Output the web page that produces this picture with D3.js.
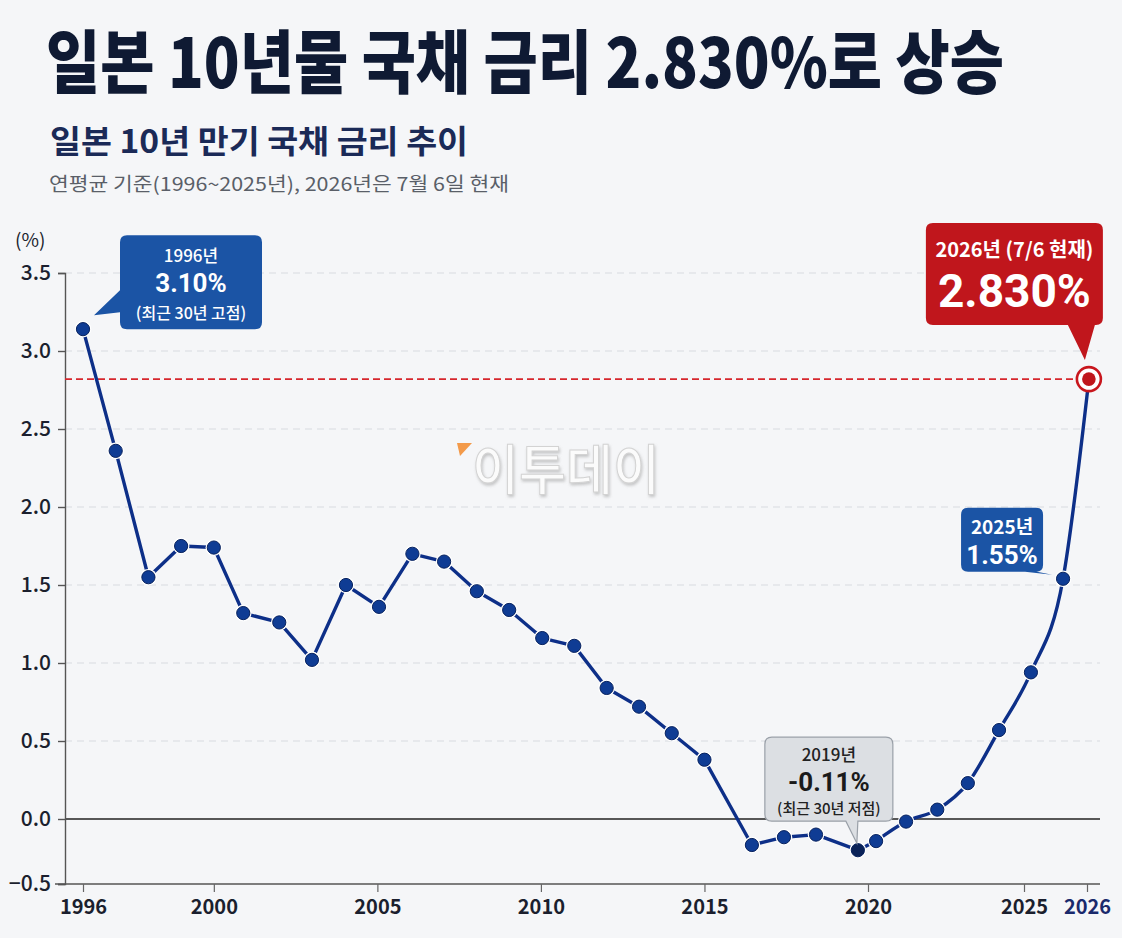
<!DOCTYPE html>
<html><head><meta charset="utf-8">
<script src="https://cdn.jsdelivr.net/npm/d3@7"></script>
<style>
  html,body{margin:0;padding:0;background:#f5f6f8;}
  svg{display:block;font-family:'Noto Sans CJK KR','Noto Sans',sans-serif;}
</style></head>
<body><svg id="viz" width="1122" height="938"></svg>
<script>
// values (x positions in year units, as plotted)
const xYear = [1996,1997,1998,1999,2000,2000.9,2002,2003,2004.04,2005.05,2006.07,2007.04,2008.04,2009.03,2010.04,2011.02,2012.01,2013,2014,2015,
  2016.45,2017.43,2018.41,2019.69,2020.26,2021.22,2022.22,2023.2,2024.2,2025.11,2025.62,2026.03];
const rates = [3.14,2.36,1.55,1.75,1.74,1.32,1.26,1.02,1.50,1.36,1.70,1.65,1.46,1.34,1.16,1.11,0.84,0.72,0.55,0.38,
  -0.20,-0.14,-0.12,-0.24,-0.17,-0.02,0.06,0.23,0.57,0.94,1.54,2.82];
const yTicks = [-0.5,0,0.5,1.0,1.5,2.0,2.5,3.0,3.5];
const xTicks = [1996,2000,2005,2010,2015,2020,2025,2026];
const current = 2.82;

const svg = d3.select("#viz");
const FONT = "'Noto Sans CJK KR','Noto Sans',sans-serif";
const NUM = "Roboto,'Noto Sans',sans-serif";
const left = 65, right = 1100;

// axes in the picture are not evenly spaced: use piecewise scales
const x = d3.scaleLinear().domain([1996,2020,2025,2026]).range([83,868,1024,1087]);
const y = d3.scaleLinear().domain([-0.5,0,3.5]).range([884,819,273]);

// titles
svg.append("text").attr("transform","translate(46,88) scale(1,1.08)").attr("font-size",64).attr("font-weight",900)
  .attr("fill","#0f1a33").attr("textLength",958).attr("lengthAdjust","spacingAndGlyphs")
  .text("일본 10년물 국채 금리 2.830%로 상승");
svg.append("text").attr("x",50).attr("y",153).attr("font-size",32).attr("font-weight",700)
  .attr("fill","#1b2a57").attr("textLength",418).attr("lengthAdjust","spacingAndGlyphs")
  .text("일본 10년 만기 국채 금리 추이");
svg.append("text").attr("x",49).attr("y",191).attr("font-size",19)
  .attr("fill","#5a5f68").attr("textLength",460).attr("lengthAdjust","spacingAndGlyphs")
  .text("연평균 기준(1996~2025년), 2026년은 7월 6일 현재");

// watermark
const wm = svg.append("g");
const defs = svg.append("defs");
defs.append("filter").attr("id","sh").append("feDropShadow")
  .attr("dx",1).attr("dy",2).attr("stdDeviation",1.5).attr("flood-color","#888").attr("flood-opacity",0.45);
wm.append("path").attr("d","M457,443 L472,443 L460,456 Z").attr("fill","#f39a4a");
wm.append("text").attr("x",472).attr("y",490).attr("font-size",54).attr("font-weight",500)
  .attr("fill","#fbfbfb").attr("stroke","#d3d3d3").attr("stroke-width",1)
  .attr("filter","url(#sh)").attr("textLength",188).attr("lengthAdjust","spacingAndGlyphs").text("이투데이");

// grid
svg.append("g").selectAll("line").data(yTicks.filter(v=>v>0)).join("line")
  .attr("x1",left).attr("x2",right).attr("y1",d=>y(d)).attr("y2",d=>y(d))
  .attr("stroke","#d8dbe0").attr("stroke-width",1).attr("stroke-dasharray","7,5");
svg.append("line").attr("x1",left).attr("x2",right).attr("y1",y(0)).attr("y2",y(0))
  .attr("stroke","#222").attr("stroke-width",1.5);

// y axis
const yAxis = svg.append("g").attr("transform",`translate(${left},0)`)
  .call(d3.axisLeft(y).tickValues(yTicks).tickFormat(d3.format(".1f")).tickSize(7).tickPadding(7));
yAxis.select(".domain").attr("stroke","#555").attr("stroke-width",1.4);
yAxis.selectAll(".tick line").attr("stroke","#555").attr("stroke-width",1.4);
yAxis.selectAll(".tick text").attr("font-family",FONT).attr("font-size",21).attr("font-weight",500).attr("fill","#1b1f2e");
svg.append("text").attr("x",15).attr("y",247).attr("font-size",19).attr("fill","#1b1f2e").text("(%)");

// x axis
const xAxis = svg.append("g").attr("transform",`translate(0,${y(-0.5)})`)
  .call(d3.axisBottom(x).tickValues(xTicks).tickFormat(d3.format("d")).tickSize(8).tickPadding(8).tickSizeOuter(0));
xAxis.select(".domain").attr("d",`M${left-10},0H${right}`).attr("stroke","#555").attr("stroke-width",1.4);
xAxis.selectAll(".tick line").attr("stroke","#666").attr("stroke-width",1.2);
xAxis.selectAll(".tick text").attr("font-family",FONT).attr("font-size",20).attr("font-weight",600)
  .attr("fill",d=>d===2026?"#1a2a6c":"#1b1f2e");

// current-level guide
svg.append("line").attr("x1",left).attr("x2",x(xYear[xYear.length-1])).attr("y1",y(current)).attr("y2",y(current))
  .attr("stroke","#d6272d").attr("stroke-width",1.6).attr("stroke-dasharray","7,4");

// series line: straight to the 2019 low, smooth afterwards
const pts = xYear.map((v,i)=>({x:v,y:rates[i]}));
const split = 24;
const lineLin = d3.line().x(d=>x(d.x)).y(d=>y(d.y));
const lineSm = d3.line().x(d=>x(d.x)).y(d=>y(d.y)).curve(d3.curveMonotoneX);
svg.append("path").attr("d",lineLin(pts.slice(0,split+1))).attr("fill","none").attr("stroke","#0d2f88").attr("stroke-width",3.4).attr("stroke-linejoin","round");
svg.append("path").attr("d",lineSm(pts.slice(split))).attr("fill","none").attr("stroke","#0d2f88").attr("stroke-width",3.4);

const dots = svg.append("g").selectAll("g").data(pts.slice(0,-1)).join("g")
  .attr("transform",d=>`translate(${x(d.x)},${y(d.y)})`);
dots.append("circle").attr("r",8.3).attr("fill","#fff");
dots.append("circle").attr("r",6.6).attr("fill",(d,i)=>i===23?"#0a2258":"#0f3c94").attr("stroke","#08225e").attr("stroke-width",1);

const last = pts[pts.length-1];
svg.append("circle").attr("cx",x(last.x)).attr("cy",y(last.y)).attr("r",12).attr("fill","#fff").attr("stroke","#c8161d").attr("stroke-width",2.6);
svg.append("circle").attr("cx",x(last.x)).attr("cy",y(last.y)).attr("r",6.8).attr("fill","#c0161c");

// callouts: rounded box with a tail
function bubble(x0,y0,x1,y1,r,side,a,b,tx,ty){
  let p = `M${x0+r},${y0}H${x1-r}Q${x1},${y0} ${x1},${y0+r}V${y1-r}Q${x1},${y1} ${x1-r},${y1}`;
  if(side==="bottom") p += `H${a}L${tx},${ty}L${b},${y1}`;
  p += `H${x0+r}Q${x0},${y1} ${x0},${y1-r}`;
  if(side==="left") p += `V${a}L${tx},${ty}L${x0},${b}`;
  p += `V${y0+r}Q${x0},${y0} ${x0+r},${y0}Z`;
  return p;
}
function callout(px,py,box,tail,fill,stroke,lines){
  const g = svg.append("g");
  const [bx0,by0,bx1,by1] = [px+box[0],py+box[1],px+box[2],py+box[3]];
  const t = tail.side==="bottom" ? [px+tail.a,px+tail.b] : [py+tail.a,py+tail.b];
  g.append("path").attr("d",bubble(bx0,by0,bx1,by1,7,tail.side,t[0],t[1],px+tail.tx,py+tail.ty))
    .attr("fill",fill).attr("stroke",stroke||"none").attr("stroke-width",1.2);
  const cx = (bx0+bx1)/2;
  lines.forEach(l=>g.append("text").attr("x",cx).attr("y",by0+l.dy).attr("text-anchor","middle")
    .attr("font-family",l.num?NUM:FONT)
    .attr("font-size",l.size).attr("font-weight",l.w).attr("fill",l.c).text(l.t));
}
const p96 = [x(xYear[0]),y(rates[0])];
callout(p96[0],p96[1],[37,-94,179,0],{side:"left",a:-17,b:-39,tx:11,ty:-14},"#1b54a5",null,[
  {t:"1996년",size:17,w:500,c:"#fff",dy:27},{t:"3.10%",size:26,w:700,c:"#fff",dy:57,num:1},{t:"(최근 30년 고점)",size:16,w:500,c:"#fff",dy:84}]);
const p19 = [x(xYear[23]),y(rates[23])];
callout(p19[0],p19[1],[-93,-113,35,-29],{side:"bottom",a:0,b:-12,tx:-1,ty:-7},"#dcdfe3","#9aa0a8",[
  {t:"2019년",size:17,w:500,c:"#222",dy:24},{t:"-0.11%",size:26,w:700,c:"#1a1a1a",dy:54,num:1},{t:"(최근 30년 저점)",size:15,w:500,c:"#222",dy:77}]);
const p25 = [x(xYear[30]),y(rates[30])];
callout(p25[0],p25[1],[-102,-71,-20,-7],{side:"bottom",a:-26,b:-38,tx:-11,ty:-4},"#1b54a5",null,[
  {t:"2025년",size:19,w:600,c:"#fff",dy:26},{t:"1.55%",size:26,w:700,c:"#fff",dy:56,num:1}]);
const p26 = [x(last.x),y(last.y)];
callout(p26[0],p26[1],[-163,-156,14,-54],{side:"bottom",a:6,b:-21,tx:-4,ty:-19},"#c0161c",null,[
  {t:"2026년 (7/6 현재)",size:20,w:600,c:"#fff",dy:34},{t:"2.830%",size:46,w:700,c:"#fff",dy:84,num:1}]);
</script></body></html>
